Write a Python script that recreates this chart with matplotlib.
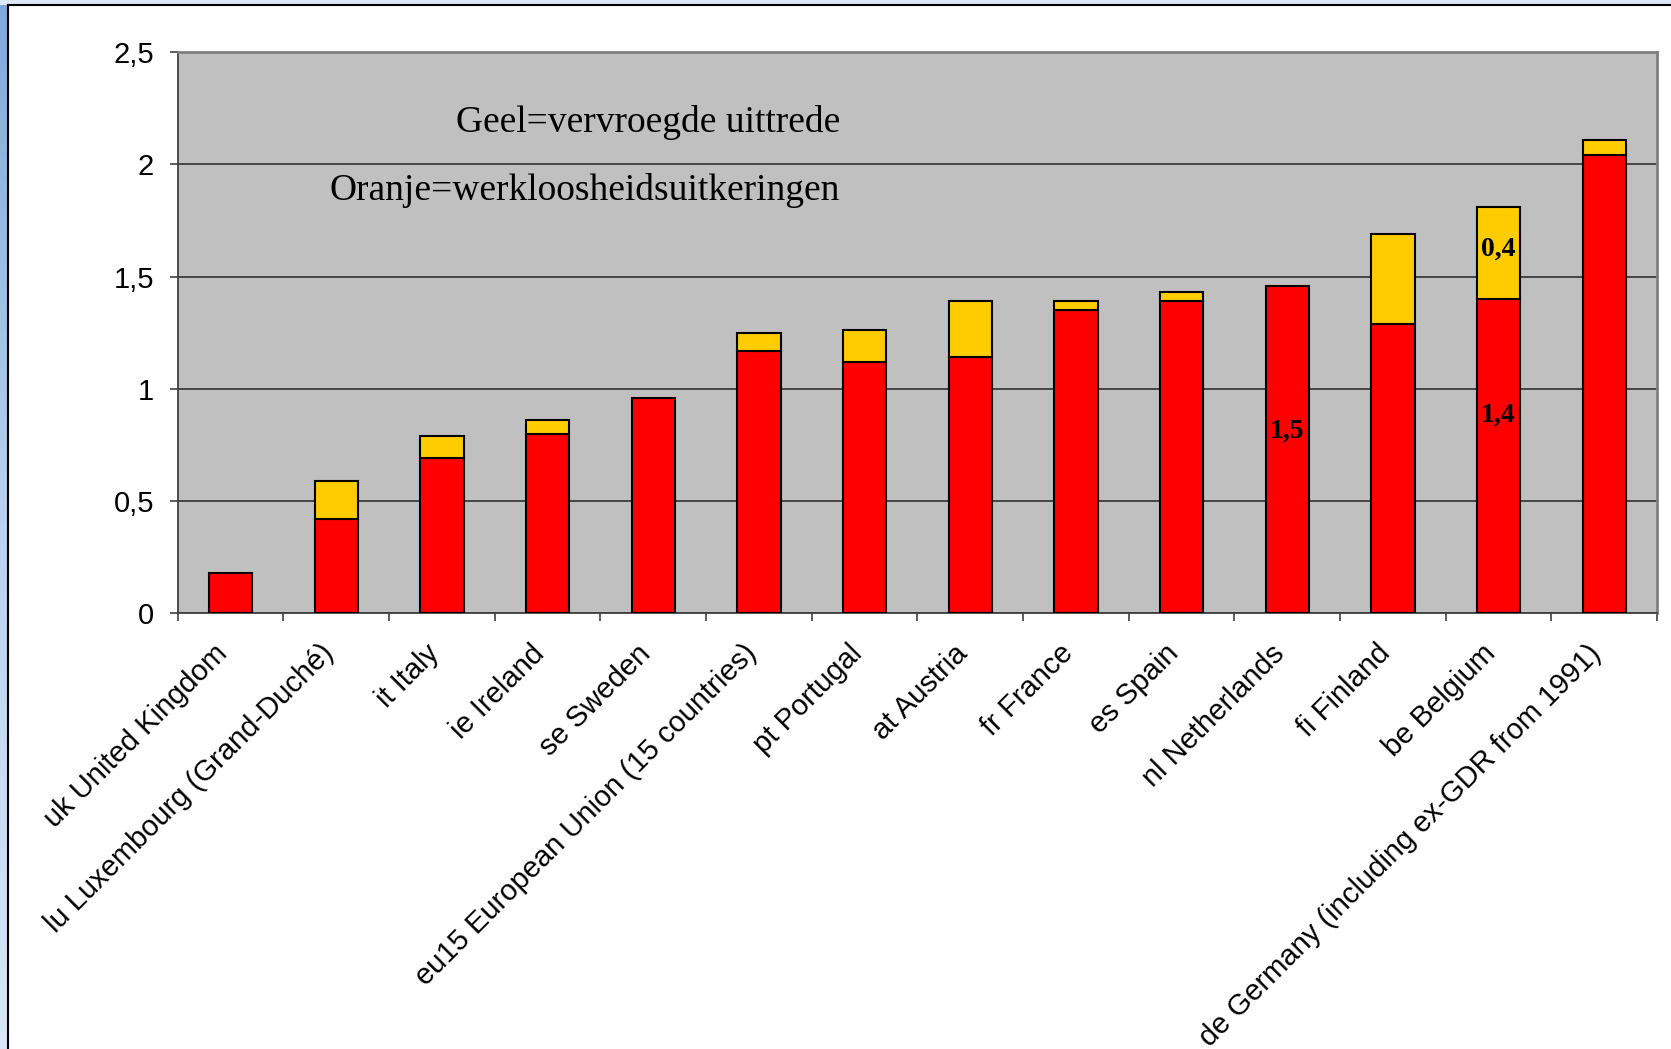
import numpy as np
import matplotlib.pyplot as plt
from matplotlib.ticker import FuncFormatter, MultipleLocator
from matplotlib.transforms import ScaledTranslation

# Categories and stacked values
countries = ['uk United Kingdom', 'lu Luxembourg (Grand-Duché)', 'it Italy', 'ie Ireland',
             'se Sweden', 'eu15 European Union (15 countries)', 'pt Portugal', 'at Austria',
             'fr France', 'es Spain', 'nl Netherlands', 'fi Finland', 'be Belgium',
             'de Germany (including ex-GDR from 1991)']
red_vals = [0.18, 0.42, 0.69, 0.80, 0.96, 1.17, 1.12, 1.14, 1.35, 1.39, 1.46, 1.29, 1.40, 2.04]
yellow_vals = [0.0, 0.17, 0.10, 0.06, 0.0, 0.08, 0.14, 0.25, 0.04, 0.04, 0.0, 0.40, 0.41, 0.07]

# value labels: (bar index, label height)
red_labels = [(10, 0.81), (12, 0.88)]
yellow_labels = [(12, 1.62)]

plt.rcParams['font.family'] = 'Liberation Sans'

W, H = 1671, 1049
fig = plt.figure(figsize=(W / 100, H / 100), dpi=100)
fig.patch.set_facecolor('white')

# blue slide background along the top and left edge
grad = np.linspace(0, 1, 256).reshape(-1, 1)
bg_left = fig.add_axes([0, 0, 8 / W, 1])
bg_left.imshow(grad, aspect='auto', cmap=plt.matplotlib.colors.LinearSegmentedColormap.from_list(
    'slide', ['#7fa9dc', '#b9d2f0', '#d9e7f7']), extent=[0, 1, 0, 1])
bg_left.axis('off')
bg_top = fig.add_axes([0, 1 - 5 / H, 1, 5 / H])
bg_top.set_facecolor('#dce8f6')
bg_top.set_xticks([])
bg_top.set_yticks([])
for s in bg_top.spines.values():
    s.set_visible(False)
fig.add_artist(plt.Line2D([8 / W, 8 / W], [0, 1 - 5 / H], color='black', lw=1.5))
fig.add_artist(plt.Line2D([8 / W, 1], [1 - 5 / H, 1 - 5 / H], color='black', lw=1.5))

ax = fig.add_axes([177.7 / W, 1 - 613 / H, (1657 - 177.7) / W, (613 - 52.3) / H])
ax.set_facecolor('#c0c0c0')

x = np.arange(len(countries))
bw = 0.41
ax.bar(x, red_vals, bw, color='#ff0000', edgecolor='black', linewidth=1.5, zorder=3)
ax.bar(x, yellow_vals, bw, bottom=red_vals, color='#ffcc00', edgecolor='black',
       linewidth=1.5, zorder=3)
# hide yellow outlines where there is no yellow part
for i, v in enumerate(yellow_vals):
    if v == 0:
        ax.patches[len(countries) + i].set_visible(False)

ax.set_xlim(-0.5, len(countries) - 0.5)
ax.set_ylim(0, 2.5)
ax.yaxis.set_major_locator(MultipleLocator(0.5))
ax.yaxis.set_major_formatter(FuncFormatter(lambda v, p: ('%g' % v).replace('.', ',')))
ax.grid(axis='y', color='#303030', linewidth=1.2, zorder=1)
ax.set_axisbelow(True)

ax.set_xticks(x)
ax.set_xticklabels(countries, rotation=45, ha='right', rotation_mode='anchor', va='center')
ax.set_xticks(np.arange(len(countries) + 1) - 0.5, minor=True)
ax.tick_params(axis='x', which='major', length=0, pad=26, labelsize=21)
ax.tick_params(axis='x', which='minor', length=6, width=1.2, color='#404040')
ax.tick_params(axis='y', length=6, width=1.2, color='#404040', pad=11, labelsize=21)
# nudge the slanted labels a little to the left of the bar centres
shift = ScaledTranslation(-0.07, 0, fig.dpi_scale_trans)
for lbl in ax.get_xticklabels():
    lbl.set_transform(lbl.get_transform() + shift)

for side in ['left', 'bottom']:
    ax.spines[side].set_color('#404040')
    ax.spines[side].set_linewidth(1.3)
for side in ['top', 'right']:
    ax.spines[side].set_color('#808080')
    ax.spines[side].set_linewidth(2)

for i, yl in red_labels:
    ax.text(i, yl, ('%.1f' % red_vals[i]).replace('.', ','), ha='center', va='center',
            family='Liberation Serif', fontweight='bold', fontsize=20, zorder=4)
for i, yl in yellow_labels:
    ax.text(i, yl, ('%.1f' % yellow_vals[i]).replace('.', ','), ha='center', va='center',
            family='Liberation Serif', fontweight='bold', fontsize=20, zorder=4)

ax.text(840 / W, 1 - 123 / H, 'Geel=vervroegde uittrede', transform=fig.transFigure,
        ha='right', va='center', family='Liberation Serif', fontsize=27)
ax.text(840 / W, 1 - 191 / H, 'Oranje=werkloosheidsuitkeringen', transform=fig.transFigure,
        ha='right', va='center', family='Liberation Serif', fontsize=27)

fig.savefig('out.png', dpi=100)
